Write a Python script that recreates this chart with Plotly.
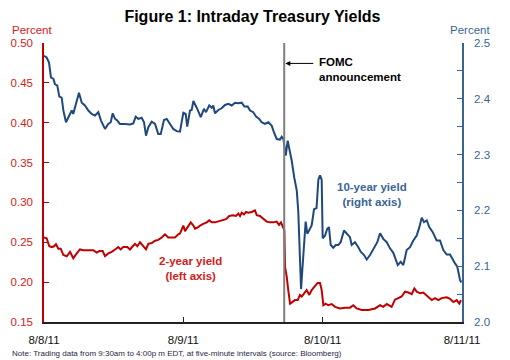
import plotly.graph_objects as go

# Session position in trading days (0 = 8/8/11 9:30am, 1 = 8/9/11 open, ...)
date_labels = ["8/8/11", "8/9/11", "8/10/11", "8/11/11"]
date_pos = [0, 1, 2, 3]
fomc_pos = 1.724

t_10y = [0.000, 0.019, 0.036, 0.050, 0.067, 0.079, 0.095, 0.110, 0.127, 0.139,
         0.158, 0.174, 0.199, 0.210, 0.230, 0.251, 0.271, 0.294, 0.318, 0.342,
         0.366, 0.390, 0.409, 0.438, 0.461, 0.479, 0.493, 0.510, 0.526, 0.545,
         0.581, 0.617, 0.641, 0.658, 0.677, 0.701, 0.718, 0.732, 0.749, 0.773,
         0.797, 0.820, 0.838, 0.861, 0.881, 0.904, 0.928, 0.952, 0.976, 1.000,
         1.017, 1.028, 1.048, 1.060, 1.072, 1.096, 1.125, 1.148, 1.163, 1.186,
         1.204, 1.215, 1.227, 1.251, 1.275, 1.299, 1.323, 1.347, 1.371, 1.395,
         1.419, 1.438, 1.462, 1.479, 1.502, 1.522, 1.545, 1.562, 1.586, 1.610,
         1.634, 1.646, 1.670, 1.694, 1.706, 1.718, 1.735, 1.749, 1.766, 1.778,
         1.796, 1.814, 1.825, 1.837, 1.845, 1.854, 1.868, 1.878, 1.890, 1.904,
         1.921, 1.938, 1.956, 1.969, 1.981, 1.993, 2.000, 2.017, 2.033, 2.045,
         2.058, 2.076, 2.094, 2.112, 2.129, 2.153, 2.173, 2.196, 2.208, 2.232,
         2.256, 2.273, 2.297, 2.316, 2.340, 2.368, 2.392, 2.412, 2.435, 2.460,
         2.483, 2.507, 2.539, 2.560, 2.579, 2.603, 2.627, 2.651, 2.675, 2.694,
         2.711, 2.727, 2.747, 2.765, 2.790, 2.818, 2.842, 2.866, 2.890, 2.914,
         2.933, 2.950, 2.966, 2.986, 2.996]
y_10y = [2.477, 2.474, 2.465, 2.438, 2.436, 2.426, 2.424, 2.404, 2.402, 2.379,
         2.358, 2.367, 2.379, 2.373, 2.393, 2.411, 2.393, 2.388, 2.379, 2.373,
         2.370, 2.376, 2.361, 2.346, 2.355, 2.358, 2.374, 2.364, 2.361, 2.355,
         2.355, 2.354, 2.356, 2.368, 2.364, 2.366, 2.358, 2.334, 2.349, 2.359,
         2.355, 2.337, 2.337, 2.362, 2.364, 2.355, 2.346, 2.342, 2.341, 2.375,
         2.373, 2.350, 2.379, 2.380, 2.396, 2.384, 2.367, 2.382, 2.376, 2.388,
         2.384, 2.388, 2.374, 2.380, 2.383, 2.389, 2.391, 2.388, 2.393, 2.392,
         2.393, 2.386, 2.386, 2.379, 2.376, 2.368, 2.364, 2.358, 2.355, 2.358,
         2.352, 2.343, 2.328, 2.327, 2.332, 2.328, 2.298, 2.325, 2.307, 2.289,
         2.259, 2.236, 2.198, 2.123, 2.059, 2.093, 2.146, 2.180, 2.158, 2.164,
         2.173, 2.202, 2.204, 2.255, 2.263, 2.255, 2.150, 2.155, 2.167, 2.170,
         2.138, 2.133, 2.138, 2.138, 2.143, 2.164, 2.158, 2.152, 2.138, 2.143,
         2.134, 2.126, 2.120, 2.112, 2.120, 2.132, 2.143, 2.159, 2.149, 2.143,
         2.132, 2.124, 2.102, 2.108, 2.102, 2.129, 2.134, 2.146, 2.155, 2.170,
         2.187, 2.179, 2.182, 2.170, 2.161, 2.146, 2.146, 2.129, 2.121, 2.121,
         2.111, 2.105, 2.099, 2.075, 2.071]

t_2y = [0.000, 0.019, 0.038, 0.055, 0.072, 0.086, 0.103, 0.120, 0.139, 0.163,
        0.187, 0.210, 0.235, 0.258, 0.282, 0.318, 0.354, 0.378, 0.397, 0.421,
        0.438, 0.461, 0.486, 0.510, 0.533, 0.550, 0.569, 0.598, 0.617, 0.637,
        0.653, 0.670, 0.689, 0.708, 0.732, 0.749, 0.773, 0.797, 0.820, 0.845,
        0.868, 0.892, 0.917, 0.940, 0.964, 0.976, 0.988, 1.000, 1.012, 1.024,
        1.036, 1.053, 1.072, 1.084, 1.107, 1.120, 1.143, 1.168, 1.186, 1.204,
        1.227, 1.251, 1.283, 1.306, 1.330, 1.354, 1.378, 1.395, 1.407, 1.419,
        1.435, 1.450, 1.466, 1.491, 1.514, 1.527, 1.550, 1.574, 1.598, 1.622,
        1.646, 1.670, 1.687, 1.701, 1.713, 1.725, 1.730, 1.742, 1.753, 1.766,
        1.782, 1.801, 1.821, 1.837, 1.850, 1.868, 1.885, 1.904, 1.921, 1.940,
        1.964, 1.981, 1.993, 2.005, 2.022, 2.040, 2.065, 2.089, 2.124, 2.160,
        2.196, 2.220, 2.244, 2.280, 2.328, 2.376, 2.412, 2.435, 2.460, 2.495,
        2.519, 2.543, 2.567, 2.591, 2.615, 2.639, 2.658, 2.675, 2.699, 2.722,
        2.742, 2.758, 2.783, 2.806, 2.830, 2.854, 2.890, 2.914, 2.938, 2.962,
        2.981, 2.993]
y_2y = [0.256, 0.255, 0.245, 0.244, 0.245, 0.2475, 0.242, 0.242, 0.234, 0.2325,
        0.238, 0.230, 0.236, 0.241, 0.240, 0.240, 0.240, 0.237, 0.239, 0.239,
        0.2325, 0.236, 0.238, 0.241, 0.244, 0.241, 0.244, 0.244, 0.241, 0.245,
        0.248, 0.245, 0.250, 0.246, 0.241, 0.248, 0.249, 0.252, 0.253, 0.256,
        0.260, 0.256, 0.256, 0.256, 0.260, 0.261, 0.266, 0.271, 0.264, 0.267,
        0.271, 0.275, 0.271, 0.267, 0.269, 0.271, 0.273, 0.275, 0.2775, 0.275,
        0.275, 0.276, 0.2775, 0.279, 0.283, 0.284, 0.283, 0.286, 0.283, 0.287,
        0.285, 0.288, 0.287, 0.288, 0.290, 0.284, 0.283, 0.279, 0.276, 0.275,
        0.275, 0.276, 0.272, 0.275, 0.271, 0.265, 0.219, 0.207, 0.190, 0.173,
        0.175, 0.1775, 0.1775, 0.184, 0.182, 0.186, 0.190, 0.184, 0.190, 0.194,
        0.199, 0.199, 0.190, 0.171, 0.173, 0.171, 0.1725, 0.169, 0.167, 0.168,
        0.168, 0.171, 0.167, 0.165, 0.165, 0.167, 0.171, 0.169, 0.1725, 0.169,
        0.178, 0.180, 0.182, 0.188, 0.187, 0.185, 0.192, 0.188, 0.186, 0.187,
        0.184, 0.181, 0.1775, 0.180, 0.1775, 0.180, 0.181, 0.179, 0.175, 0.1775,
        0.173, 0.1775]

RED = "#C00000"
RED_TXT = "#D42020"
BLUE = "#1F497D"
BLUE_TXT = "#3A6496"
FONT = "Liberation Sans, Arial, sans-serif"

fig = go.Figure()
fig.add_trace(go.Scatter(x=t_2y, y=y_2y, mode="lines", yaxis="y",
                         line=dict(color=RED, width=2), showlegend=False))
fig.add_trace(go.Scatter(x=t_10y, y=y_10y, mode="lines", yaxis="y2",
                         line=dict(color=BLUE, width=2), showlegend=False))

fig.add_shape(type="line", xref="x", yref="paper", x0=fomc_pos, x1=fomc_pos,
              y0=0, y1=1, line=dict(color="#7F7F7F", width=2))

fig.update_layout(
    width=510, height=360,
    margin=dict(l=44, r=48, t=43, b=38),
    paper_bgcolor="white", plot_bgcolor="white",
    font=dict(family=FONT, size=11.5, color="black"),
    title=dict(text="<b>Figure 1: Intraday Treasury Yields</b>",
               x=0.495, xref="container", xanchor="center",
               y=1 - 16 / 360, yref="container", yanchor="middle",
               font=dict(family=FONT, size=16, color="black")),
    xaxis=dict(range=[0, 3], tickvals=date_pos, ticktext=date_labels,
               showline=True, linecolor="#222222", linewidth=1.5,
               ticks="inside", ticklen=5, tickcolor="#222222",
               showgrid=False, zeroline=False,
               tickfont=dict(size=11.5, color="#111111"),
               ticklabelstandoff=6),
    yaxis=dict(range=[0.15, 0.50], dtick=0.05, tickformat=".2f",
               showline=True, linecolor=RED, linewidth=1.5,
               ticks="inside", ticklen=5, tickcolor=RED,
               showgrid=False, zeroline=False,
               tickfont=dict(size=11.5, color=RED_TXT),
               ticklabelstandoff=7),
    yaxis2=dict(range=[2.0, 2.5], dtick=0.1, tickformat=".1f",
                overlaying="y", side="right",
                showline=True, linecolor=BLUE_TXT, linewidth=1.5,
                ticks="inside", ticklen=5, tickcolor=BLUE_TXT,
                minor=dict(dtick=0.05, ticks="inside", ticklen=5, tickcolor=BLUE_TXT),
                showgrid=False, zeroline=False,
                tickfont=dict(size=11.5, color=BLUE_TXT),
                ticklabelstandoff=8),
)

annos = [
    dict(text="Percent", xref="paper", yref="paper", x=-12 / 418, y=1 + 13 / 279,
         xanchor="center", yanchor="middle", showarrow=False,
         font=dict(size=11.5, color=RED_TXT)),
    dict(text="Percent", xref="paper", yref="paper", x=1 + 8 / 418, y=1 + 13 / 279,
         xanchor="center", yanchor="middle", showarrow=False,
         font=dict(size=11.5, color=BLUE_TXT)),
    dict(text="<b>FOMC<br>announcement</b>", xref="x", yref="y2", x=1.962, y=2.452,
         xanchor="left", yanchor="middle", align="left", showarrow=False,
         font=dict(size=11.5, color="black")),
    dict(text=" ", xref="x", yref="y2", x=fomc_pos + 0.008, y=2.4634,
         ax=30, ay=0, showarrow=True, arrowhead=2, arrowsize=1, arrowwidth=1,
         arrowcolor="black", font=dict(size=2)),
    dict(text="<b>10-year yield<br>(right axis)</b>", xref="x", yref="y2",
         x=2.354, y=2.229, xanchor="center", yanchor="middle", align="center",
         showarrow=False, font=dict(size=11.5, color=BLUE_TXT)),
    dict(text="<b>2-year yield<br>(left axis)</b>", xref="x", yref="y",
         x=1.048, y=0.2175, xanchor="center", yanchor="middle", align="center",
         showarrow=False, font=dict(size=11.5, color=RED_TXT)),
    dict(text="Note: Trading data from 9:30am to 4:00p m EDT, at five-minute intervals (source: Bloomberg)",
         xref="paper", yref="paper", x=-34 / 418, y=-31 / 279,
         xanchor="left", yanchor="middle", showarrow=False,
         font=dict(size=8, color="#1F1F3F")),
]
fig.update_layout(annotations=annos)

fig.write_html("out.html", config={"displayModeBar": False},
               post_script="document.body.style.margin='0';document.body.style.overflow='hidden';")
